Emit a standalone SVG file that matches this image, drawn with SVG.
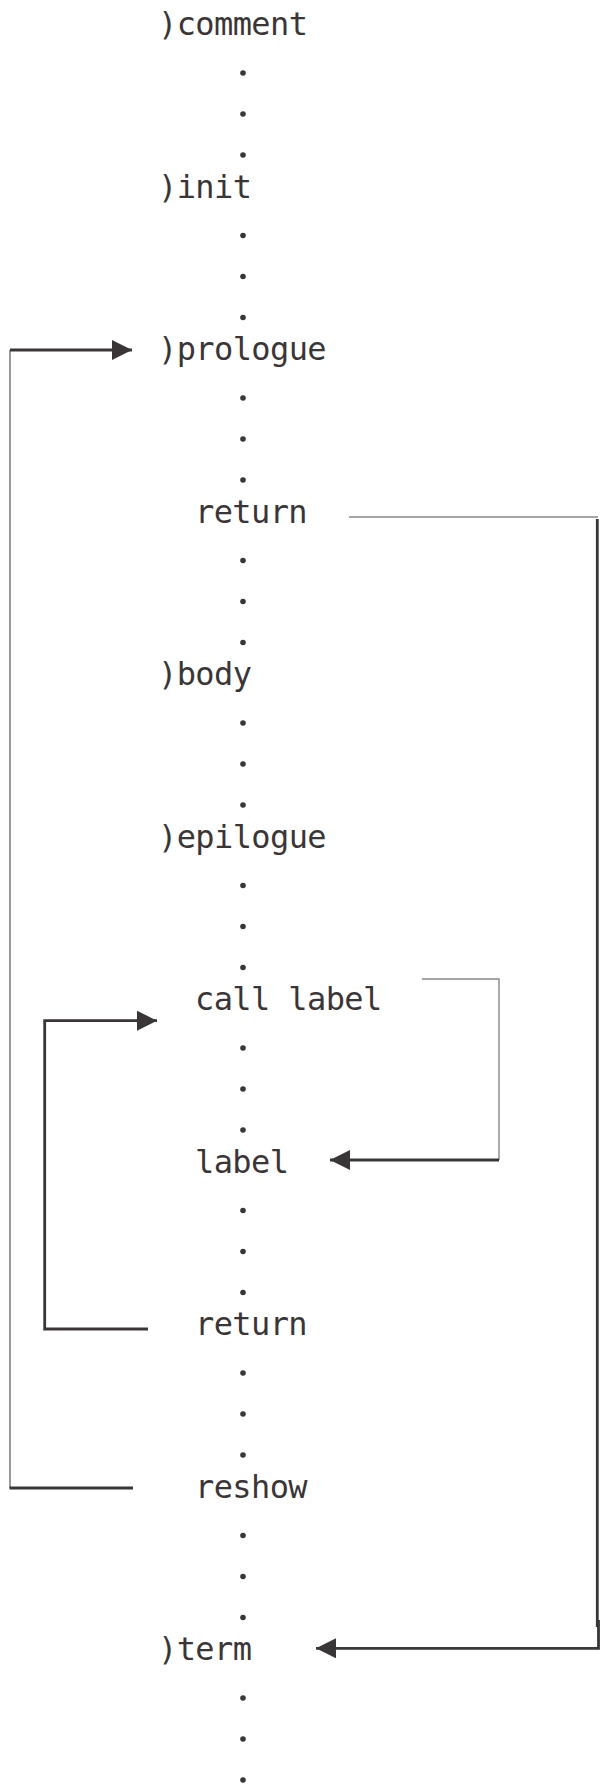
<svg xmlns="http://www.w3.org/2000/svg" width="601" height="1787" viewBox="0 0 601 1787">
<style>
.t{font-family:"DejaVu Sans Mono","Liberation Mono",monospace;font-size:32px;letter-spacing:-0.6px;fill:#3a3637}
.d{fill:#3a3637}
.thick{fill:none;stroke:#3a3637;stroke-width:2.8}
.thin{fill:none;stroke:#5a5657;stroke-width:1.2}
.gray{fill:none;stroke:#8a8788;stroke-width:1.4}
</style>
<defs>
<marker id="ah" markerUnits="userSpaceOnUse" markerWidth="20" markerHeight="20" refX="20" refY="10" orient="auto" viewBox="0 0 20 20">
<path d="M0,0 L20,10 L0,20 z" fill="#3a3637"/>
</marker>
<g id="dots"><circle cx="243" cy="38" r="2.8"/><circle cx="243" cy="79" r="2.8"/><circle cx="243" cy="120" r="2.8"/></g>
</defs>
<rect width="601" height="1787" fill="#ffffff"/>
<g id="dotcolumn" class="d">
<use href="#dots" y="35"/>
<use href="#dots" y="197.5"/>
<use href="#dots" y="360"/>
<use href="#dots" y="522.5"/>
<use href="#dots" y="685"/>
<use href="#dots" y="847.5"/>
<use href="#dots" y="1010"/>
<use href="#dots" y="1172.5"/>
<use href="#dots" y="1335"/>
<use href="#dots" y="1497.5"/>
<use href="#dots" y="1660"/>
</g>
<g id="n-comment"><text class="t" x="158" y="35">)comment</text></g>
<g id="n-init"><text class="t" x="158" y="197.5">)init</text></g>
<g id="n-prologue"><text class="t" x="158" y="360">)prologue</text></g>
<g id="n-return1"><text class="t" x="195" y="522.5">return</text></g>
<g id="n-body"><text class="t" x="158" y="685">)body</text></g>
<g id="n-epilogue"><text class="t" x="158" y="847.5">)epilogue</text></g>
<g id="n-call"><text class="t" x="195" y="1010">call label</text></g>
<g id="n-label"><text class="t" x="195" y="1172.5">label</text></g>
<g id="n-return2"><text class="t" x="195" y="1335">return</text></g>
<g id="n-reshow"><text class="t" x="195" y="1497.5">reshow</text></g>
<g id="n-term"><text class="t" x="158" y="1660">)term</text></g>
<g id="connectors">
<path class="thin" d="M10,1488 V350"/>
<path class="thick" d="M133,1488 H9.5"/>
<path class="thick" d="M10,350 H132" marker-end="url(#ah)"/>
<path class="gray" d="M349,517 H598"/>
<path class="thick" d="M597.3,519 V1627"/>
<path class="thick" d="M598.5,1620 V1648.3 H316" marker-end="url(#ah)"/>
<path class="gray" d="M422,979 H499 V1160"/>
<path class="thick" d="M499,1160 H330" marker-end="url(#ah)"/>
<path class="thick" d="M148,1329 H44.7 V1020.7 H157" marker-end="url(#ah)"/>
</g>
</svg>
